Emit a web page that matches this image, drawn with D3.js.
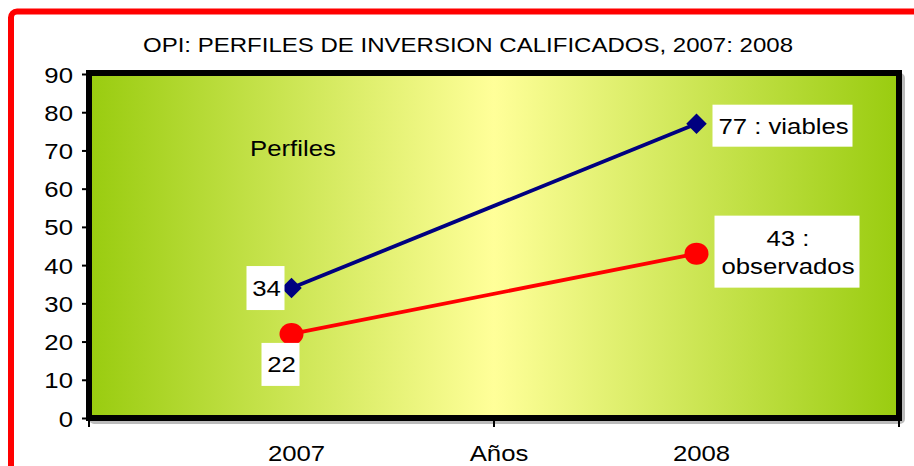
<!DOCTYPE html>
<html><head><meta charset="utf-8">
<script src="https://cdn.jsdelivr.net/npm/d3@7"></script>
<style>body{margin:0;background:#fff}svg{display:block}text{font-family:"Liberation Sans",Arial,sans-serif}</style>
</head><body><svg id="c" width="914" height="466"></svg>
<script>
const title = "OPI: PERFILES DE INVERSION CALIFICADOS, 2007: 2008";
const years = ["2007", "2008"];
const viables = [34, 77];
const observados = [22, 43];
const yTicks = [0,10,20,30,40,50,60,70,80,90];
const xTitle = "Años";
const seriesNote = "Perfiles";

const svg = d3.select("#c");
const L = 89, R = 899, T = 73, B = 418;
const SX = 1.17;

// red outer frame
svg.append("rect").attr("x", 11).attr("y", 11.5).attr("width", 930).attr("height", 480)
  .attr("rx", 6).attr("fill", "none").attr("stroke", "#ff0000").attr("stroke-width", 6);

const defs = svg.append("defs");
const g = defs.append("linearGradient").attr("id", "bg").attr("x1", "0").attr("x2", "1").attr("y1", "0").attr("y2", "0");
g.append("stop").attr("offset", "0%").attr("stop-color", "#99cc0f");
g.append("stop").attr("offset", "50%").attr("stop-color", "#ffff99");
g.append("stop").attr("offset", "100%").attr("stop-color", "#99cc0f");

const x = d3.scaleBand().domain(years).range([L, R]).padding(0);
const y = d3.scaleLinear().domain([0, 90]).range([B, T + 1]);
const cx = d => x(d) + x.bandwidth() / 2;

function stext(px, py, anchor, str, size) {
  return svg.append("text").attr("transform", `translate(${px},${py}) scale(${SX},1)`)
    .attr("text-anchor", anchor).attr("font-size", size || 22).attr("fill", "#000").text(str);
}

// shadow + plot area
svg.append("rect").attr("x", L + 3).attr("y", T + 3).attr("width", R - L).attr("height", B - T)
  .attr("fill", "none").attr("stroke", "#bbb").attr("stroke-width", 6).attr("rx", 2);
svg.append("rect").attr("x", L).attr("y", T).attr("width", R - L).attr("height", B - T)
  .attr("fill", "url(#bg)").attr("stroke", "#000").attr("stroke-width", 6);

// title
svg.append("text").attr("x", 143).attr("y", 52)
  .attr("font-size", 21).attr("textLength", 650).attr("lengthAdjust", "spacingAndGlyphs")
  .attr("fill", "#000").text(title);

// y axis
const yAxis = d3.axisLeft(y).tickValues(yTicks).tickSize(6).tickPadding(9);
const ya = svg.append("g").attr("transform", `translate(${L - 1},0)`).call(yAxis);
ya.select(".domain").remove();
ya.selectAll("line").attr("stroke", "#000").attr("stroke-width", 2);
ya.selectAll("text").attr("x", null).attr("dy", null)
  .attr("transform", "translate(-15,8) scale(" + SX + ",1)")
  .attr("font-size", 22).attr("fill", "#000").attr("font-family", "Liberation Sans, Arial, sans-serif");

// x axis ticks at band boundaries
const bounds = [x(years[0]), x(years[1]), x(years[1]) + x.bandwidth()];
svg.selectAll(".xt").data(bounds).enter().append("line")
  .attr("x1", d => d).attr("x2", d => d).attr("y1", B).attr("y2", B + 9)
  .attr("stroke", "#000").attr("stroke-width", 2);
years.forEach(d => stext(cx(d) + 5, 461, "middle", d));
stext(x(years[1]) + 5, 461, "middle", xTitle);

stext(250, 156, "start", seriesNote);

const line = d3.line().x((d, i) => cx(years[i])).y(d => y(d));
svg.append("path").datum(viables).attr("d", line).attr("fill", "none").attr("stroke", "#000080").attr("stroke-width", 3.8);
svg.append("path").datum(observados).attr("d", line).attr("fill", "none").attr("stroke", "#ff0000").attr("stroke-width", 3.8);

svg.selectAll(".dm").data(viables).enter().append("path")
  .attr("d", d3.symbol().type(d3.symbolSquare).size(210))
  .attr("transform", (d, i) => `translate(${cx(years[i])},${y(d)}) rotate(45)`).attr("fill", "#000080");
svg.selectAll(".ci").data(observados).enter().append("ellipse")
  .attr("cx", (d, i) => cx(years[i])).attr("cy", d => y(d)).attr("rx", 12).attr("ry", 11).attr("fill", "#ff0000");

// data labels
function label(bx, by, bw, bh, lines) {
  svg.append("rect").attr("x", bx).attr("y", by).attr("width", bw).attr("height", bh).attr("fill", "#fff");
  const n = lines.length;
  lines.forEach((s, k) => {
    stext(bx + bw / 2 + 1, by + bh / 2 + 8 + (k - (n - 1) / 2) * 28, "middle", s);
  });
}
label(cx(years[0]) - 45, y(viables[0]) - 22, 38, 44, [String(viables[0])]);
label(cx(years[0]) - 30, y(observados[0]) + 9, 38, 43, [String(observados[0])]);
label(cx(years[1]) + 16, y(viables[1]) - 19, 140, 42, [viables[1] + " : viables"]);
label(cx(years[1]) + 18, y(observados[1]) - 38, 145, 72, [observados[1] + " :", "observados"]);
</script></body></html>
